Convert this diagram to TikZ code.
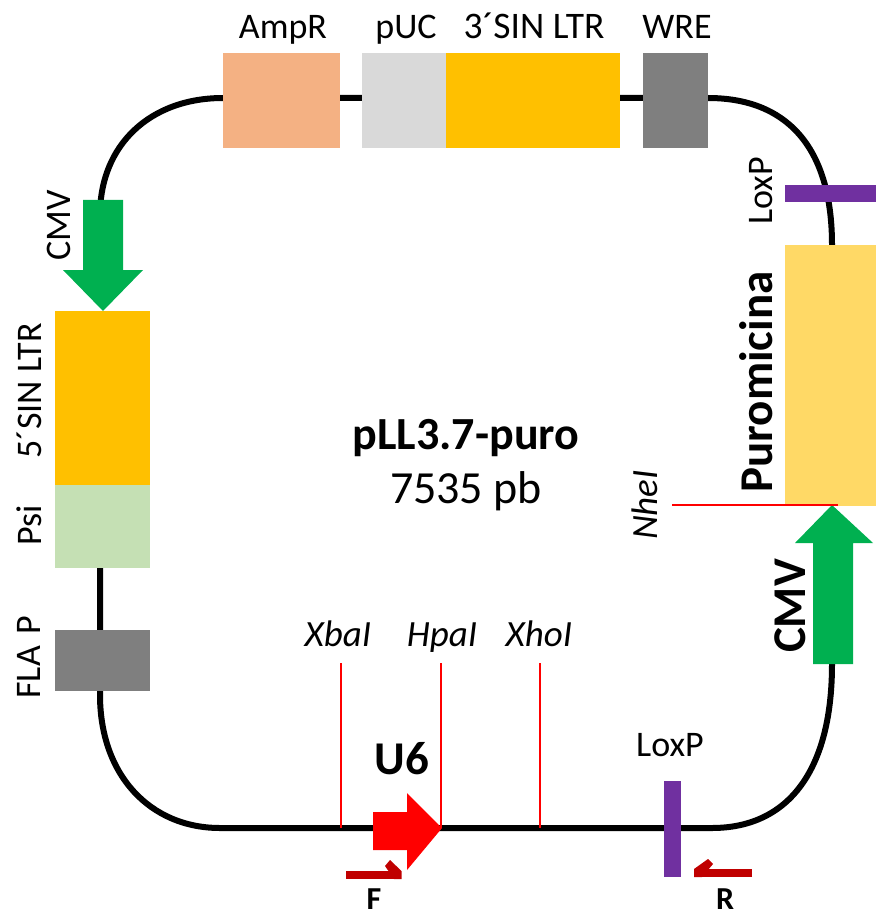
\documentclass[tikz,border=0pt]{standalone}
\usepackage{fontspec}
\setmainfont{Carlito}
\definecolor{cAmp}{HTML}{F4B183}
\definecolor{cPuc}{HTML}{D9D9D9}
\definecolor{cLtr}{HTML}{FFC000}
\definecolor{cGrey}{HTML}{7F7F7F}
\definecolor{cPur}{HTML}{7030A0}
\definecolor{cPuro}{HTML}{FFD966}
\definecolor{cPsi}{HTML}{C5E0B4}
\definecolor{cGreen}{HTML}{00B050}
\definecolor{cDred}{HTML}{C00000}
\tikzset{
  block/.style={fill=#1,draw=none,inner sep=0pt},
  bb/.style={line width=6pt,black},
  site/.style={line width=1.3pt,red},
  lab/.style={inner sep=0pt,font=\fontsize{36}{38}\selectfont},
  labb/.style={inner sep=0pt,font=\fontsize{47}{49}\selectfont\bfseries},
  ital/.style={inner sep=0pt,font=\fontsize{37}{40}\selectfont\itshape},
  primer/.style={line width=7.5pt,cDred},
  primertext/.style={inner sep=0pt,font=\fontsize{32}{34}\selectfont\bfseries},
}
\begin{document}
\begin{tikzpicture}[x=1pt,y=-1pt]
\useasboundingbox (0,0) rectangle (876,917);
% backbone
\coordinate (tl) at (100,215);
\coordinate (tr) at (832,245);
\coordinate (br) at (832,664);
\coordinate (bl) at (100,568);
\draw[bb] (tl) .. controls (100,145) and (150,98) .. (223,98) -- (708,98) .. controls (785,98) and (832,145) .. (tr);
\draw[bb] (bl) -- (100,695) .. controls (100,775) and (150,828) .. (220,828) -- (712,828) .. controls (785,828) and (832,775) .. (br);
% top blocks
\node[block=cAmp,minimum width=117pt,minimum height=95pt] (amp) at (281.5,100.5) {};
\node[block=cPuc,minimum width=84pt,minimum height=95pt] (puc) at (404,100.5) {};
\node[block=cLtr,minimum width=174pt,minimum height=95pt] (ltr3) at (533,100.5) {};
\node[block=cGrey,minimum width=65pt,minimum height=95pt] (wre) at (675.5,100.5) {};
\node[lab,anchor=base] (tamp) at (283,39) {AmpR};
\node[lab,anchor=base] (tpuc) at (406,39) {pUC};
\node[lab,anchor=base,font=\fontsize{37.5}{38}\selectfont] (tltr) at (534,39) {3´SIN LTR};
\node[lab,anchor=base] (twre) at (677,39) {WRE};
% left blocks
\node[block=cLtr,minimum width=95pt,minimum height=174pt] (ltr5) at (102.5,398) {};
\node[block=cPsi,minimum width=95pt,minimum height=83pt] (psi) at (102.5,526.5) {};
\node[block=cGrey,minimum width=95pt,minimum height=61pt] (flap) at (102.5,660.5) {};
\fill[cGreen] (83,200) -- (123,200) -- (123,270) -- (143,270) -- (103,311) -- (63,270) -- (83,270) -- cycle;
\node[lab,rotate=90] (tcmv) at (59,225) {CMV};
\node[lab,rotate=90] (t5) at (29,391) {5´SIN LTR};
\node[lab,rotate=90] (tpsi) at (29,525) {Psi};
\node[lab,rotate=90] (tflap) at (29,657) {FLA\hspace{4pt} P};
% right
\node[block=cPur,minimum width=91pt,minimum height=17pt] (lox1) at (830.5,193.5) {};
\node[block=cPuro,minimum width=91pt,minimum height=261pt] (puro) at (830.5,375.5) {};
\node[lab,rotate=90] (tlox1) at (761,191) {LoxP};
\node[labb,rotate=90] (tpuro) at (756,382) {Puromicina};
\fill[cGreen] (813,664) -- (853,664) -- (853,543) -- (873,543) -- (832,505) -- (795,543) -- (813,543) -- cycle;
\node[labb,rotate=90] (tcmv2) at (790,606) {CMV};
\coordinate (nh1) at (672,505);
\coordinate (nh2) at (838,505);
\draw[site] (nh1) -- (nh2);
\node[ital,rotate=90] (tnhe) at (645,505) {NheI};
% centre
\node[inner sep=0pt,font=\fontsize{46}{48}\selectfont\bfseries] (title) at (466,438) {pLL3.7-puro};
\node[inner sep=0pt,font=\fontsize{46}{48}\selectfont] (size) at (466,491) {7535 pb};
% sites
\coordinate (x1) at (341,663); \coordinate (x2) at (341,828);
\coordinate (h1) at (441,663); \coordinate (h2) at (441,828);
\coordinate (o1) at (540,663); \coordinate (o2) at (540,828);
\draw[site] (x1) -- (x2);
\draw[site] (h1) -- (h2);
\draw[site] (o1) -- (o2);
\node[ital,anchor=base] (txba) at (338,646) {XbaI};
\node[ital,anchor=base] (thpa) at (442,646) {HpaI};
\node[ital,anchor=base] (txho) at (539,646) {XhoI};
% U6
\fill[red] (373,812) -- (407,812) -- (407,793) -- (442,828) -- (407,870) -- (407,850) -- (373,850) -- cycle;
\node[labb] (tu6) at (402,759) {U6};
% LoxP bottom
\node[block=cPur,minimum width=17pt,minimum height=96pt] (lox2) at (672.5,829) {};
\node[lab] (tlox2) at (670,745) {LoxP};
% primers
\coordinate (f1) at (346,875); \coordinate (f2) at (401,875);
\draw[primer] (f1) -- (f2);
\fill[cDred] (401.5,871) -- (401.5,879) -- (394,879) -- (385,866) -- (390,860) -- cycle;
\coordinate (r1) at (752,873); \coordinate (r2) at (694,873);
\draw[primer] (r1) -- (r2);
\fill[cDred] (694,869) -- (694,877) -- (702,877) -- (713,864) -- (708,859) -- cycle;
\node[primertext] (tf) at (374,899) {F};
\node[primertext] (tr2) at (725,899) {R};
\end{tikzpicture}
\end{document}
